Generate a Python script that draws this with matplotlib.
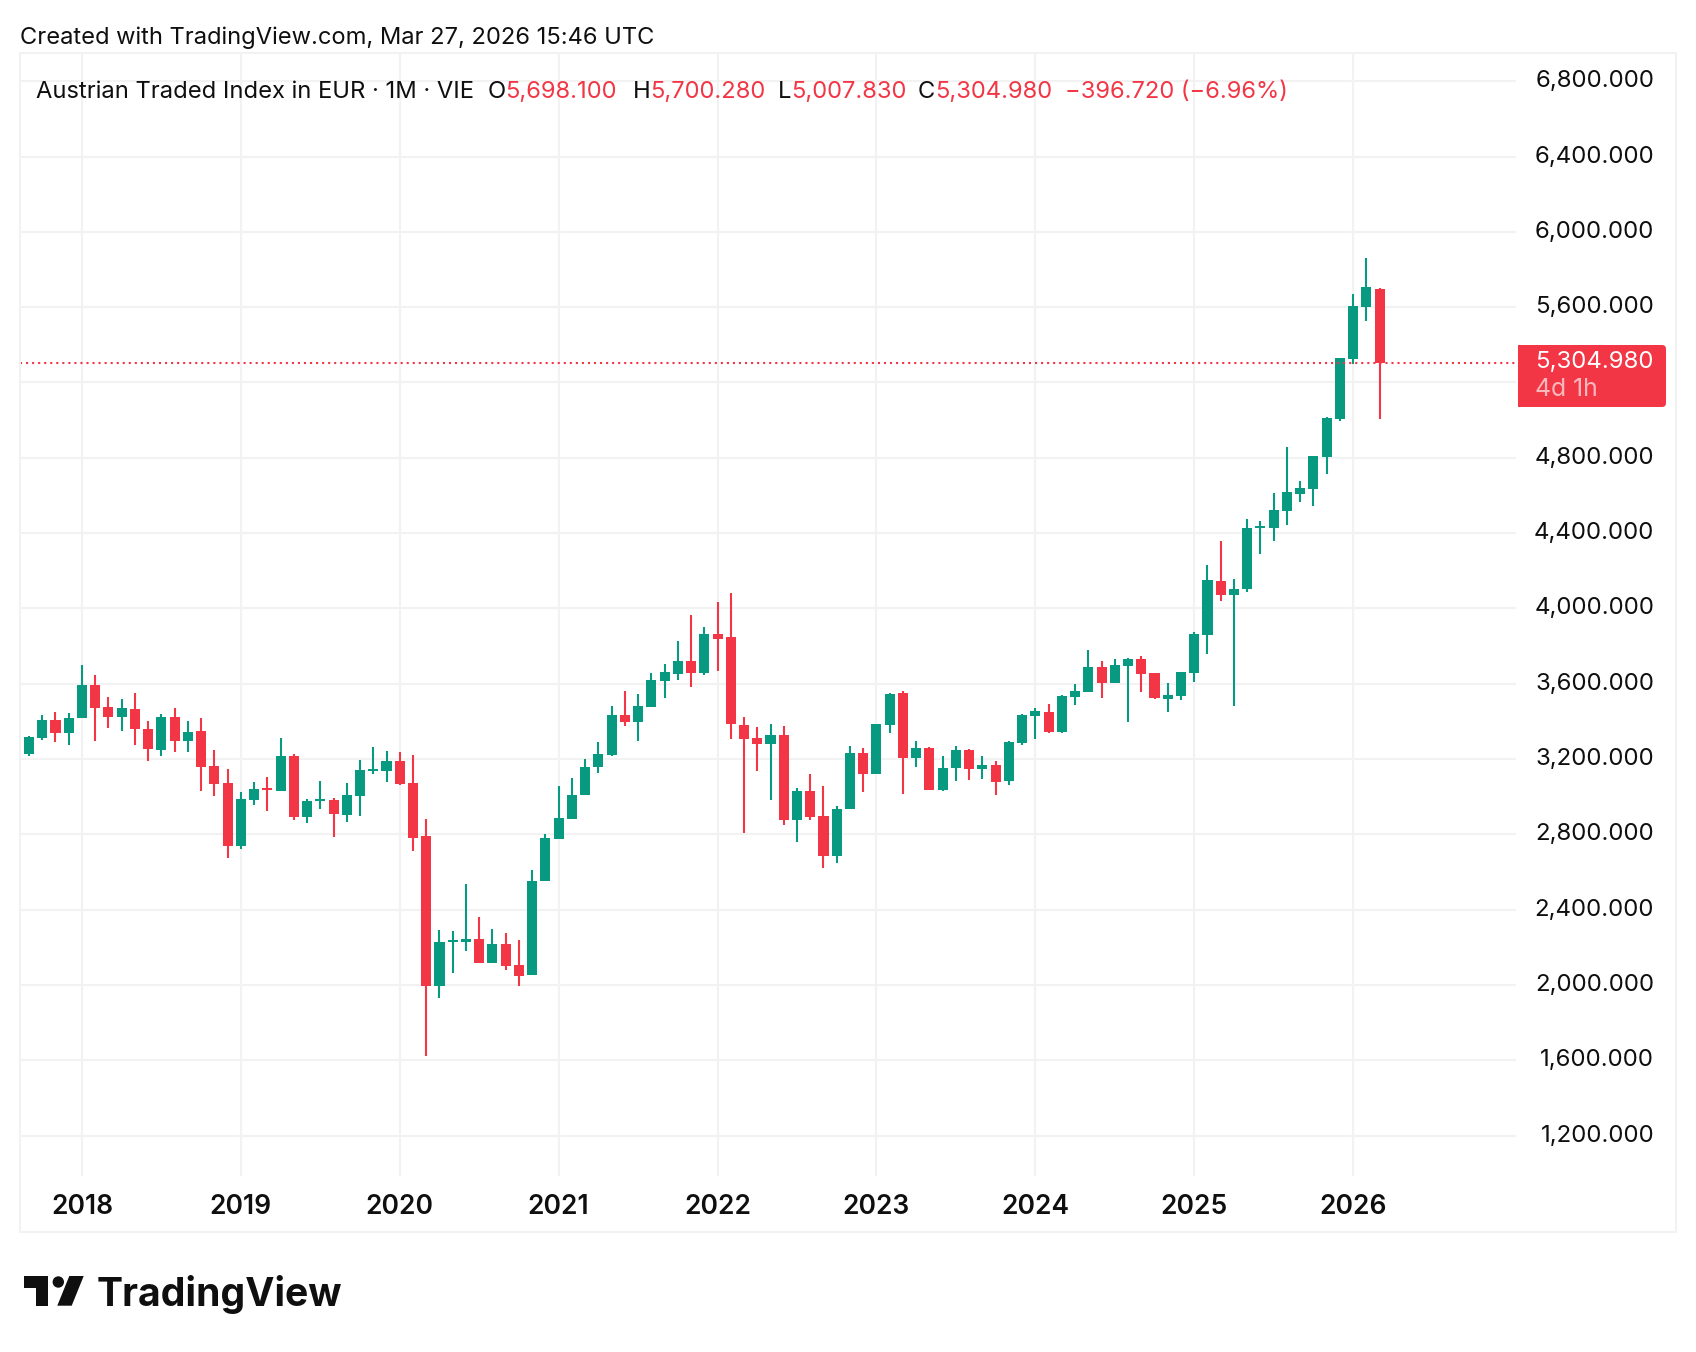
"""Monthly candlestick chart of the Austrian Traded Index, TradingView look."""

# import dependencies
import numpy as np
import pandas as pd
import matplotlib
matplotlib.use('Agg')
import matplotlib.pyplot as plt
from matplotlib.patches import Polygon, Circle, Rectangle, FancyBboxPatch

plt.rcParams['font.family'] = ['Inter', 'DejaVu Sans']

# monthly OHLC, Aug 2017 to Mar 2026
opens = [3218, 3226, 3311, 3407, 3338, 3418, 3593, 3476, 3423, 3465, 3359, 3248, 3423, 3295, 3349, 3163, 3072,
         2738, 2982, 3046, 3030, 3216, 2892, 2977, 2982, 2903, 3003, 3136, 3136, 3189, 3072, 2791, 1995, 2228,
         2228, 2244, 2117, 2218, 2106, 2053, 2552, 2775, 2881, 3009, 3158, 3221, 3434, 3396, 3476, 3614, 3651,
         3720, 3657, 3864, 3848, 3381, 3312, 3280, 3327, 2876, 3030, 2897, 2685, 2934, 3232, 3120, 3381, 3550,
         3205, 3258, 3035, 3152, 3248, 3147, 3168, 3083, 3285, 3428, 3450, 3343, 3529, 3556, 3690, 3605, 3696,
         3733, 3658, 3520, 3536, 3658, 3860, 4147, 4073, 4104, 4428, 4428, 4519, 4609, 4635, 4805, 5007, 5326,
         5602, 5698.1]
highs = [3232, 3322, 3434, 3449, 3444, 3699, 3646, 3529, 3519, 3550, 3402, 3439, 3471, 3402, 3418, 3248, 3147,
         3025, 3078, 3104, 3311, 3226, 2988, 3083, 2993, 3072, 3195, 3264, 3242, 3237, 3221, 2881, 2292, 2287,
         2536, 2361, 2297, 2276, 2239, 2610, 2802, 3057, 3099, 3200, 3290, 3481, 3561, 3545, 3657, 3704, 3827,
         3965, 3901, 4034, 4081, 3423, 3370, 3386, 3375, 3046, 3120, 3057, 2950, 3269, 3258, 3386, 3550, 3561,
         3296, 3264, 3216, 3269, 3253, 3216, 3189, 3296, 3439, 3471, 3492, 3540, 3598, 3779, 3722, 3733, 3738,
         3749, 3658, 3605, 3664, 3876, 4232, 4359, 4158, 4476, 4465, 4614, 4858, 4678, 4811, 5018, 5331, 5671,
         5862, 5700.28]
lows = [3215, 3216, 3301, 3290, 3274, 3418, 3295, 3365, 3349, 3274, 3189, 3216, 3237, 3237, 3030, 3003, 2674,
        2722, 2956, 2924, 3030, 2876, 2860, 2934, 2786, 2865, 2897, 3120, 3078, 3062, 2711, 1623, 1931, 2064,
        2180, 2117, 2117, 2080, 1995, 2053, 2552, 2775, 2881, 3009, 3126, 3216, 3375, 3296, 3476, 3524, 3620,
        3582, 3646, 3667, 3306, 2807, 3136, 2982, 2850, 2759, 2876, 2621, 2648, 2934, 3025, 3120, 3338, 3014,
        3158, 3035, 3030, 3083, 3088, 3094, 3009, 3062, 3274, 3306, 3338, 3338, 3487, 3556, 3526, 3605, 3395,
        3558, 3520, 3451, 3515, 3611, 3759, 4041, 3483, 4088, 4290, 4359, 4444, 4566, 4545, 4715, 4996, 5299,
        5527, 5007.83]
closes = [3230, 3317, 3407, 3338, 3418, 3593, 3471, 3423, 3471, 3359, 3253, 3423, 3295, 3343, 3157, 3067, 2738,
          2988, 3041, 3035, 3216, 2892, 2977, 2988, 2908, 3009, 3142, 3147, 3189, 3067, 2780, 1995, 2228, 2239,
          2244, 2117, 2218, 2101, 2048, 2552, 2780, 2887, 3009, 3158, 3227, 3434, 3396, 3481, 3620, 3662, 3720,
          3657, 3864, 3837, 3386, 3306, 3280, 3327, 2876, 3030, 2892, 2685, 2934, 3232, 3120, 3386, 3545, 3205,
          3258, 3035, 3152, 3248, 3147, 3168, 3078, 3290, 3434, 3455, 3343, 3535, 3561, 3689, 3605, 3701, 3733,
          3653, 3526, 3542, 3664, 3866, 4152, 4073, 4104, 4428, 4439, 4524, 4620, 4641, 4811, 5012, 5331, 5607,
          5708, 5304.98]
price_ticks = list(range(1200, 7200, 400))
hidden_tick = 5200  # sits behind the last price label
last_price = 5304.98

GREEN = '#089981'
RED = '#F23645'
GRID = '#F2F2F2'
TEXT = '#0F0F0F'
W, H = 1696, 1352  # figure size in pixels


def to_axes_rect(left, top, right, bottom):
    """Turn pixel edges into a figure fraction rectangle."""
    return [left / W, 1 - bottom / H, (right - left) / W, (bottom - top) / H]


fig = plt.figure(figsize=(W / 100, H / 100), dpi=100)
ax = fig.add_axes(to_axes_rect(20, 53, 1516, 1176))

months = pd.date_range('2017-08-01', periods=len(closes), freq='MS')
x = np.arange(len(closes))
o, h, l, c = map(np.array, (opens, highs, lows, closes))
up = c >= o
colors = np.where(up, GREEN, RED)

# wicks first, bodies on top
ax.vlines(x, l, h, colors=colors, linewidth=1.5, zorder=3)
ax.bar(x, np.abs(c - o), bottom=np.minimum(o, c), width=0.76, color=colors, linewidth=0, zorder=4)

ax.axhline(last_price, color=RED, linewidth=1.5, linestyle=(0, (1, 1.9)), zorder=5)

ax.set_xlim(0.32, 113.3)
ax.set_ylim(985, 6950)

year_pos = x[months.month == 1]
ax.set_xticks(year_pos)
ax.set_xticklabels([str(months[i].year) for i in year_pos], fontsize=19, fontweight=600, color=TEXT)
ax.set_yticks(price_ticks)
ax.set_yticklabels([])
for p in price_ticks:
    if p != hidden_tick:
        ax.annotate('{:,.3f}'.format(p), xy=(1, p), xycoords=('axes fraction', 'data'), xytext=(99.5, 0),
                    textcoords='offset points', ha='right', va='center', fontsize=17.3, color=TEXT)
ax.tick_params(axis='both', length=0)
ax.tick_params(axis='x', pad=13)
ax.grid(True, color=GRID, linewidth=1.5)
ax.set_axisbelow(True)
for spine in ax.spines.values():
    spine.set_visible(False)

# overlay in pixel coordinates for the frame, header, price label and logo
over = fig.add_axes([0, 0, 1, 1], zorder=10)
over.set_xlim(0, W)
over.set_ylim(H, 0)
over.axis('off')

over.plot([20, 1676, 1676, 20, 20], [53, 53, 1232, 1232, 53], color=GRID, linewidth=1.5)

over.text(20, 38, 'Created with TradingView.com, Mar 27, 2026 15:46 UTC', fontsize=17.05, color=TEXT, va='center')

# header row pieces
header = [(36, 'Austrian Traded Index in EUR · 1M · VIE', TEXT),
          (488, 'O', TEXT), (505, '5,698.100', RED),
          (633, 'H', TEXT), (650, '5,700.280', RED),
          (778, 'L', TEXT), (791, '5,007.830', RED),
          (918, 'C', TEXT), (935, '5,304.980', RED),
          (1065, '\u2212396.720 (\u22126.96%)', RED)]
for px, txt, col in header:
    over.text(px, 92, txt, fontsize=17.1, color=col, va='center')

# last price label, only the right corners are round
over.add_patch(FancyBboxPatch((1530, 349), 132, 54, boxstyle='round,pad=4,rounding_size=4',
                              facecolor=RED, edgecolor='none'))
over.add_patch(Rectangle((1518, 345), 30, 62, facecolor=RED, edgecolor='none'))
over.text(1654, 362, '{:,.3f}'.format(last_price), fontsize=17.3, color='white', ha='right', va='center')
over.text(1535, 390, '4d 1h', fontsize=17.8, color='white', alpha=0.65, va='center')

# logo mark
over.add_patch(Polygon([(24, 1276), (48.3, 1276), (48.3, 1305.7), (36, 1305.7), (36, 1288.3), (24, 1288.3)],
                       facecolor=TEXT, edgecolor='none'))
over.add_patch(Circle((58.3, 1282), 5.7, facecolor=TEXT, edgecolor='none'))
over.add_patch(Polygon([(83.7, 1276), (71.7, 1305.7), (57.3, 1305.7), (69.3, 1276)],
                       facecolor=TEXT, edgecolor='none'))
over.text(97, 1295, 'TradingView', fontsize=28.2, fontweight=700, color=TEXT, va='center')

fig.savefig('out.png', dpi=100)  # export graph as .png file
